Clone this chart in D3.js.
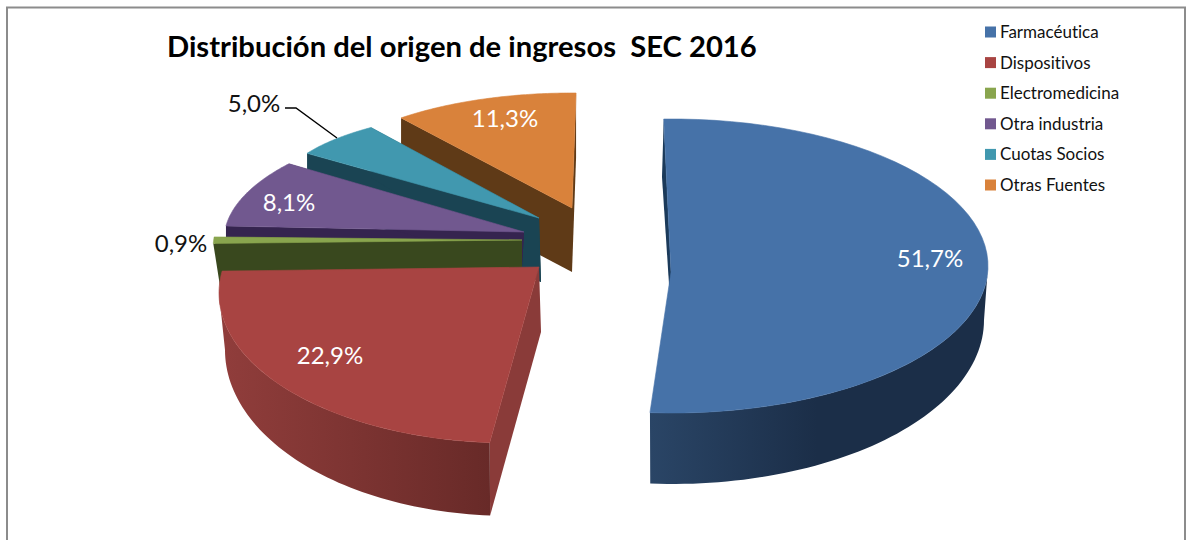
<!DOCTYPE html>
<html>
<head>
<meta charset="utf-8">
<script src="https://cdn.jsdelivr.net/npm/d3@7.9.0/dist/d3.min.js"></script>
<style>
  html, body { margin: 0; background: #fff; }
  svg { display: block; }
  text { font-family: Lato, "Open Sans", sans-serif; font-variant-ligatures: none; }
</style>
</head>
<body>
<svg id="chart" width="1188" height="540"></svg>
<script>
const categories = ['Farmacéutica', 'Dispositivos', 'Electromedicina', 'Otra industria', 'Cuotas Socios', 'Otras Fuentes'];
const shares = [51.7, 22.9, 0.9, 8.1, 5.0, 11.3];
const titleText = 'Distribución del origen de ingresos  SEC 2016';

// colours per slice: top, cut faces, wall gradient ends
const topColors = ['#4672a8', '#a84442', '#89a54e', '#71588f', '#4198af', '#d9823b'];
const cutColors = ['#1b3a5a', '#8a3b39', '#39481e', '#35244f', '#1a4453', '#5f3a17'];
const wallLeft = ['#2a4566', '#903d3b', '#39481e', '#35244f', '#1a4453', '#5f3a17'];
const wallRight = ['#1b2e48', '#682a28', '#39481e', '#35244f', '#1a4453', '#5f3a17'];

// the chart is a skewed 3D pie, so every exploded slice has its own projected ellipse.
// top ellipse cx,cy,rx,ry / bottom ellipse cy2,rx2,ry2 / apex top, apex bottom / arc range in degrees
const projection = [
  { cx: 672, cy: 266, rx: 316, ry: 147, cy2: 320, rx2: 312, ry2: 164, apex: [671, 272], base: [672, 330], from: -1.5, to: 184, wallFrom: 90, cutOuter: [662, 177] },
  { cx: 510, cy: 293, rx: 291, ry: 150, cy2: 350, rx2: 285, ry2: 166, apex: [539, 267], base: [541, 332], from: 184, to: 278.4, wallTo: 270 },
  { cx: 515, cy: 250, rx: 302, ry: 150, cy2: 295, rx2: 295, ry2: 160, apex: [522, 240], base: [522, 267], from: 272.5, to: 275 },
  { cx: 520, cy: 240, rx: 296, ry: 122, cy2: 276, rx2: 296, ry2: 122, apex: [524, 232], base: [522, 267], from: 276.6, to: 308.7 },
  { cx: 530, cy: 190, rx: 250, ry: 81, cy2: 240, rx2: 250, ry2: 81, apex: [539, 218], base: [541, 282], from: 296.9, to: 320.5 },
  { cx: 572, cy: 194, rx: 260, ry: 101, cy2: 258, rx2: 260, ry2: 101, apex: [572, 208], base: [572, 272], from: 318.9, to: 360.9 }
];
const drawOrder = [5, 4, 3, 2, 1, 0];
const labelPos = [[930, 258], [330, 355], [181, 243], [289, 202], [254, 103], [505, 118]];
const labelFill = ['#fff', '#fff', '#111', '#fff', '#111', '#fff'];

const svg = d3.select('#chart');
const defs = svg.append('defs');
const line = d3.line();
const rad = d => d * Math.PI / 180;

// border, open at the bottom
svg.append('path')
  .attr('d', 'M7,540V7.5H1185V540')
  .attr('fill', 'none')
  .attr('stroke', '#8c8c8c')
  .attr('stroke-width', 2);

svg.append('text')
  .attr('x', 167).attr('y', 57)
  .attr('font-size', 29.2).attr('font-weight', 700).attr('fill', '#000')
  .style('white-space', 'pre')
  .text(titleText);

const pie = d3.pie().sort(null).value(d => d);
const arcs = pie(shares);
const fmt = d3.formatLocale({ decimal: ',', thousands: '.', grouping: [3], currency: ['', ''] }).format('.1f');

const topPt = (p, deg) => [p.cx + p.rx * Math.sin(rad(deg)), p.cy - p.ry * Math.cos(rad(deg))];
const basePt = (p, deg) => [p.cx + p.rx2 * Math.sin(rad(deg)), p.cy2 - p.ry2 * Math.cos(rad(deg))];
const sweep = (a, b) => d3.range(0, 61).map(i => a + (b - a) * i / 60);

drawOrder.forEach(i => {
  const p = projection[i];
  const angle = d3.scaleLinear().domain([arcs[i].startAngle, arcs[i].endAngle]).range([p.from, p.to]);
  const a0 = angle(arcs[i].startAngle);
  const a1 = angle(arcs[i].endAngle);
  const g = svg.append('g').attr('class', 'slice');

  // cut faces
  g.append('path')
    .attr('d', line([topPt(p, a0), p.cutOuter || basePt(p, a0), p.base, p.apex]) + 'Z')
    .attr('fill', cutColors[i]);
  if (i > 1) {
    g.append('path')
      .attr('d', line([topPt(p, a1), basePt(p, a1), p.base, p.apex]) + 'Z')
      .attr('fill', cutColors[i]);
  }

  // outer wall, only the two front slices show one
  if (i < 2) {
    const w0 = p.wallFrom !== undefined ? p.wallFrom : a0;
    const w1 = p.wallTo !== undefined ? p.wallTo : a1;
    const ends = [basePt(p, w0), basePt(p, w1)];
    const id = 'wall' + i;
    const grad = defs.append('linearGradient').attr('id', id)
      .attr('gradientUnits', 'userSpaceOnUse')
      .attr('x1', d3.min(ends, d => d[0])).attr('x2', d3.max(ends, d => d[0]))
      .attr('y1', 0).attr('y2', 0);
    grad.append('stop').attr('offset', 0).attr('stop-color', wallLeft[i]);
    grad.append('stop').attr('offset', i === 0 ? 0.5 : 1).attr('stop-color', wallRight[i]);
    const outline = sweep(w0, w1).map(d => topPt(p, d)).concat(sweep(w1, w0).map(d => basePt(p, d)));
    g.append('path').attr('d', line(outline) + 'Z').attr('fill', `url(#${id})`);
  }

  // top surface
  const face = [p.apex].concat(sweep(a0, a1).map(d => topPt(p, d)));
  g.append('path')
    .attr('d', line(face) + 'Z')
    .attr('fill', topColors[i])
    .attr('stroke', topColors[i])
    .attr('stroke-width', 0.6);
});

// leader line of the 5,0% label
svg.append('path')
  .attr('d', line([[285, 108], [296, 108], [337, 138]]))
  .attr('fill', 'none').attr('stroke', '#000').attr('stroke-width', 1.4);

svg.append('g').selectAll('text')
  .data(arcs)
  .join('text')
  .attr('x', (d, i) => labelPos[i][0])
  .attr('y', (d, i) => labelPos[i][1])
  .attr('dy', '0.36em')
  .attr('text-anchor', 'middle')
  .attr('font-size', 24)
  .attr('fill', (d, i) => labelFill[i])
  .text(d => fmt(d.value) + '%');

// legend
const legendY = d3.scalePoint().domain(categories).range([32, 185]);
const legend = svg.append('g').selectAll('g')
  .data(categories)
  .join('g')
  .attr('transform', d => `translate(985,${legendY(d)})`);
legend.append('rect')
  .attr('x', 0).attr('y', -5.5).attr('width', 11).attr('height', 11)
  .attr('fill', (d, i) => topColors[i]);
legend.append('text')
  .attr('x', 15).attr('dy', '0.35em')
  .attr('font-size', 17).attr('fill', '#111')
  .text(d => d);
</script>
</body>
</html>
